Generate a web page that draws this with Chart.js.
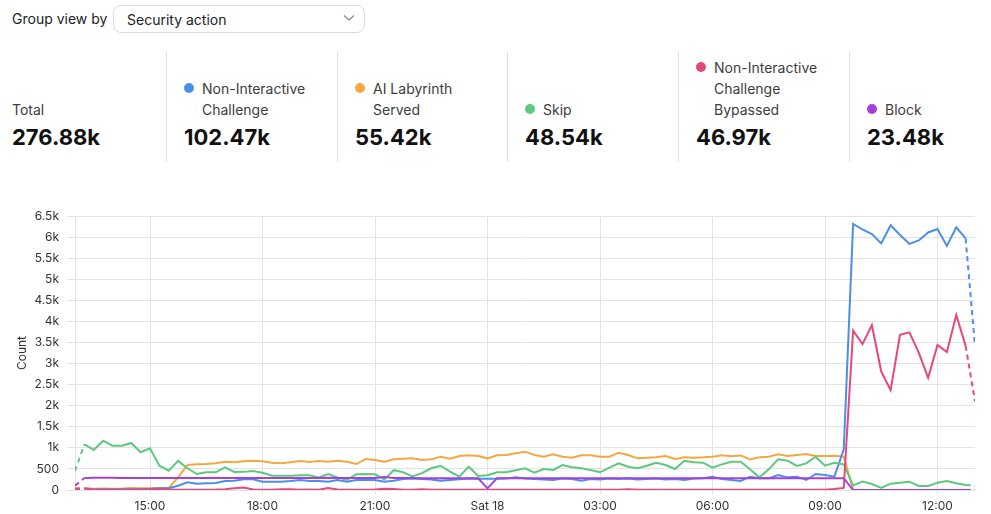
<!DOCTYPE html>
<html>
<head>
<meta charset="utf-8">
<script src="https://cdn.jsdelivr.net/npm/chart.js@4.4.1/dist/chart.umd.min.js"></script>
<style>
  body { margin: 0; width: 991px; height: 514px; background: #fff; font-family: Inter, "Noto Sans", sans-serif; color: #1d1d1d; overflow: hidden; position: relative; }
  .group { position: absolute; left: 12px; top: 9px; font-size: 14px; line-height: 20px; color: #222; }
  .select { position: absolute; left: 113px; top: 5px; width: 250px; height: 26px; border: 1px solid #dcdcdc; border-radius: 8px; }
  .select span { position: absolute; left: 13px; top: 4px; font-size: 14px; line-height: 20px; color: #222; }
  .select svg { position: absolute; right: 9px; top: 8px; }
  .cell { position: absolute; top: 52px; height: 99px; width: 170px; display: flex; flex-direction: column; justify-content: flex-end; }
  .cell.div { border-left: 1px solid #dedede; padding-bottom: 11px; }
  .lab { position: relative; font-size: 14px; line-height: 21px; color: #3d3d3d; padding-left: 18px; }
  .lab i { position: absolute; left: 0; top: 5px; width: 10px; height: 10px; border-radius: 50%; }
  .val { font-size: 22px; font-weight: 700; line-height: 28px; margin-top: 3px; color: #111; }
  #wrap { position: absolute; left: 0; top: 200px; width: 991px; height: 314px; }
</style>
</head>
<body>
<div class="group">Group view by</div>
<div class="select"><span>Security action</span>
  <svg width="12" height="8" viewBox="0 0 12 8"><path d="M1 1.5 L6 6 L11 1.5" fill="none" stroke="#888" stroke-width="1.2"/></svg>
</div>
<div id="stats"></div>
<div id="wrap"><canvas id="Grafica"></canvas></div>
<script>
// 15-minute buckets, Fri 13:00 -> Sat 13:00
const times = [];
for (let i = 0; i <= 96; i++) {
  const m = 13 * 60 + i * 15;
  const h = Math.floor(m / 60) % 24;
  times.push(String(h).padStart(2, '0') + ':' + String(m % 60).padStart(2, '0'));
}

const seriesNames = ['Non-Interactive Challenge', 'AI Labyrinth Served', 'Skip', 'Non-Interactive Challenge Bypassed', 'Block'];
const totals = ['276.88k', '102.47k', '55.42k', '48.54k', '46.97k', '23.48k'];
const colors = ['#4a8fe8', '#f5a742', '#5cc97d', '#e6487e', '#a740d8'];

const nonInteractive = [20,20,20,15,15,20,20,25,30,40,40,100,182,150,158,166,213,221,253,253,198,198,198,213,237,213,213,198,237,198,237,237,237,198,221,260,270,260,250,221,237,253,270,265,265,265,270,300,270,260,250,237,270,260,221,260,250,270,260,270,250,260,270,250,260,237,270,280,316,260,237,213,316,277,277,356,300,316,237,380,356,316,965,6310,6180,6070,5850,6280,6050,5840,5920,6110,6190,5790,6230,5970,3420];
const labyrinth = [40,40,30,35,30,35,45,40,40,45,50,300,593,609,616,632,672,656,680,695,680,648,632,656,688,664,688,672,695,672,616,735,711,672,727,743,751,711,727,790,743,806,822,806,751,822,830,870,909,830,790,846,790,767,822,822,790,790,885,830,751,767,775,806,735,775,767,775,790,822,800,820,727,775,790,846,806,830,854,806,806,814,790,0,0,0,0,0,0,0,0,0,0,0,0,0,0];
const skip = [450,1085,950,1170,1050,1050,1115,895,990,577,458,690,515,380,420,420,538,427,430,450,410,340,340,340,350,350,300,380,300,237,372,380,372,250,470,420,320,400,515,575,435,316,553,332,350,420,420,470,515,410,498,475,593,538,515,475,420,530,632,553,515,577,648,593,498,695,656,648,530,609,672,672,490,300,490,727,695,570,632,790,577,648,610,110,198,142,50,150,174,198,95,95,174,213,158,118,103];
const bypassed = [30,40,10,5,5,5,10,5,15,15,10,5,5,5,5,10,20,40,60,10,5,5,20,15,5,10,5,45,10,5,5,5,10,30,25,5,5,20,5,5,5,5,5,5,5,5,5,5,5,5,5,5,5,5,5,5,5,5,5,20,5,5,5,5,5,5,5,5,5,5,5,5,5,5,5,5,5,5,5,5,5,25,50,3780,3460,3910,2810,2370,3680,3740,3260,2660,3440,3270,4150,3420,2100];
const block = [100,285,288,288,288,287,286,286,285,285,285,285,285,285,284,284,284,283,283,283,282,282,282,282,282,282,282,290,282,282,282,282,282,310,282,282,282,280,280,280,280,280,280,280,40,280,280,280,280,280,280,280,280,280,280,280,280,280,280,280,280,280,280,280,280,280,280,280,280,280,280,280,280,280,280,280,280,280,280,280,280,280,280,0,0,0,0,0,0,0,0,0,0,0,0,0,0];

const seriesData = [nonInteractive, labyrinth, skip, bypassed, block];
const drawOrder = [4, 5, 3, 2, 1];

// stat cards
const statLabels = [['Total'], ['Non-Interactive', 'Challenge'], ['AI Labyrinth', 'Served'], ['Skip'], ['Non-Interactive', 'Challenge', 'Bypassed'], ['Block']];
const cellLeft = [12, 166, 337, 507, 678, 849];
let html = '';
statLabels.forEach((lines, k) => {
  const dot = k > 0 ? '<i style="background:' + colors[k - 1] + '"></i>' : '';
  const pad = k > 0 ? '' : ' style="padding-left:0"';
  html += '<div class="cell' + (k > 0 ? ' div' : '') + '" style="left:' + cellLeft[k] + 'px;' + (k > 0 ? 'padding-left:17px;' : '') + '">' +
    '<div class="lab"' + pad + '>' + dot + lines.join('<br>') + '</div>' +
    '<div class="val">' + totals[k] + '</div></div>';
});
document.querySelector('#stats').innerHTML = html;

const last = times.length - 1;
const datasets = seriesNames.map((name, k) => ({
  label: name,
  data: seriesData[k].map((v, i) => ({ x: i, y: v })),
  borderColor: colors[k],
  backgroundColor: colors[k],
  borderWidth: 2,
  pointRadius: 0,
  tension: 0,
  order: drawOrder[k],
  segment: {
    borderDash: ctx => (ctx.p0DataIndex === 0 || ctx.p1DataIndex === last) ? [5, 4] : undefined
  }
}));

var ctx = document.querySelector('#Grafica').getContext('2d');
var myChart = new Chart(ctx, {
  type: 'line',
  data: { datasets: datasets },
  options: {
    responsive: true,
    maintainAspectRatio: false,
    animation: false,
    layout: { padding: { top: 16, right: 16, left: 0, bottom: 0 } },
    plugins: { legend: { display: false }, tooltip: { enabled: false } },
    scales: {
      x: {
        type: 'linear',
        min: 0,
        max: last,
        afterBuildTicks: scale => {
          scale.ticks = times.map((t, i) => ({ value: i, t: t }))
            .filter(o => o.t.endsWith(':00') && parseInt(o.t) % 3 === 0 && o.value > 0 && o.value < last)
            .map(o => ({ value: o.value }));
        },
        afterFit: scale => { scale.height = 24; },
        grid: { color: '#e3e3e3', tickLength: 4 },
        border: { display: false },
        ticks: {
          autoSkip: false,
          maxRotation: 0,
          padding: 5,
          color: '#333',
          font: { family: 'Inter', size: 12 },
          callback: v => times[v] === '00:00' ? 'Sat 18' : times[v]
        }
      },
      y: {
        min: 0,
        max: 6500,
        afterFit: scale => { scale.width = 75; },
        grid: { color: '#e3e3e3', tickLength: 8 },
        border: { display: true, color: '#e3e3e3' },
        title: { display: true, text: 'Count', color: '#333', font: { family: 'Inter', size: 12 }, padding: { top: 15, bottom: 0 } },
        ticks: {
          stepSize: 500,
          padding: 8,
          color: '#333',
          font: { family: 'Inter', size: 12 },
          callback: v => v >= 1000 ? (v / 1000) + 'k' : v
        }
      }
    }
  }
});
</script>
</body>
</html>
